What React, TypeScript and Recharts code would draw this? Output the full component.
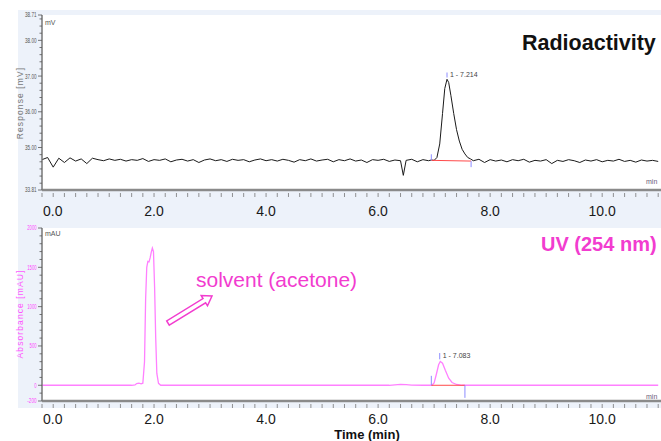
import React from 'react';
import {
  LineChart,
  Line,
  XAxis,
  YAxis,
  CartesianGrid,
  ReferenceLine,
  ReferenceDot,
} from 'recharts';

// radioactivity trace (mV)
const radioTimes = [
  0, 0.1, 0.2, 0.3, 0.4, 0.5, 0.6, 0.7, 0.8, 0.9,
  1.0, 1.1, 1.2, 1.3, 1.4, 1.5, 1.6, 1.7, 1.8, 1.9,
  2.0, 2.1, 2.2, 2.3, 2.4, 2.5, 2.6, 2.7, 2.8, 2.9,
  3.0, 3.1, 3.2, 3.3, 3.4, 3.5, 3.6, 3.7, 3.8, 3.9,
  4.0, 4.1, 4.2, 4.3, 4.4, 4.5, 4.6, 4.7, 4.8, 4.9,
  5.0, 5.1, 5.2, 5.3, 5.4, 5.5, 5.6, 5.7, 5.8, 5.9,
  6.0, 6.1, 6.2, 6.3, 6.4, 6.45, 6.5, 6.6, 6.7, 6.8, 6.9, 6.95,
  7.0, 7.05, 7.1, 7.15, 7.19, 7.23, 7.26, 7.3, 7.35, 7.4, 7.45, 7.5, 7.55, 7.6, 7.65,
  7.7, 7.8, 7.9, 8.0, 8.1, 8.2, 8.3, 8.4, 8.5, 8.6, 8.7, 8.8, 8.9,
  9.0, 9.1, 9.2, 9.3, 9.4, 9.5, 9.6, 9.7, 9.8, 9.9,
  10.0, 10.1, 10.2, 10.3, 10.4, 10.5, 10.6, 10.7, 10.8, 10.9, 11.0,
];
const radioValues = [
  34.66, 34.72, 34.45, 34.7, 34.58, 34.71, 34.62, 34.68, 34.55, 34.7,
  34.66, 34.63, 34.68, 34.64, 34.67, 34.62, 34.66, 34.64, 34.69, 34.61,
  34.66, 34.64, 34.68, 34.6, 34.65, 34.67, 34.62, 34.66, 34.58, 34.65,
  34.68, 34.63, 34.66, 34.61, 34.67, 34.64, 34.66, 34.6, 34.65, 34.68,
  34.63, 34.66, 34.62, 34.67, 34.64, 34.59, 34.66, 34.63, 34.68, 34.62,
  34.65, 34.67, 34.6, 34.66, 34.63, 34.68, 34.62, 34.65, 34.58, 34.66,
  34.64, 34.67, 34.61, 34.65, 34.63, 34.22, 34.64, 34.67, 34.6, 34.66, 34.63, 34.65,
  34.64, 34.72, 35.1, 35.95, 36.65, 36.91, 36.82, 36.45, 35.95, 35.5, 35.18, 34.95, 34.82, 34.72, 34.68,
  34.63, 34.67, 34.58, 34.66, 34.62, 34.65, 34.6, 34.66, 34.63, 34.67, 34.59, 34.64, 34.62,
  34.66, 34.55, 34.64, 34.61, 34.66, 34.63, 34.58, 34.65, 34.62, 34.66,
  34.6, 34.64, 34.62, 34.67, 34.61, 34.64, 34.59, 34.65, 34.62, 34.64, 34.61,
];

// UV 254 nm trace (mAU)
const uvTimes = [
  0, 1.0, 1.6, 1.66, 1.69, 1.73, 1.77, 1.8, 1.83, 1.85, 1.87, 1.89, 1.91,
  1.93, 1.95, 1.97, 1.99, 2.01, 2.03, 2.05, 2.08, 2.12, 3.0, 5.0,
  6.2, 6.3, 6.4, 6.5, 6.6, 6.8, 6.96, 7.0, 7.04, 7.08, 7.11,
  7.15, 7.2, 7.26, 7.32, 7.4, 7.5, 9.0, 11.0,
];
const uvValues = [
  0, 0, 0, 4, 22, 28, 18, 26, 300, 1100, 1500, 1575, 1570,
  1620, 1690, 1745, 1700, 1250, 600, 150, 25, 0, 0, 0,
  0, 6, 12, 9, 3, 0, 0, 30, 140, 260, 303,
  280, 190, 90, 35, 10, 0, 0, 0,
];

// peak integration: [start, apex, end] times and baseline levels
const radioPeakTimes = [6.95, 7.23, 7.66];
const radioPeakLevels = [34.64, 37.0, 34.62];
const radioPeakLabel = '1 - 7.214';
const uvPeakTimes = [6.95, 7.1, 7.55];
const uvPeakLevels = [0, 330, 0];
const uvPeakLabel = '1 - 7.083';

const xLabelTicks = [0, 2, 4, 6, 8, 10];
const xMinorTicks = Array.from({ length: 56 }, (_, i) => Math.round(i * 2) / 10);
const radioMajorTicks = [33.81, 35, 36, 37, 38, 38.71];
const radioMinorTicks = [34, 34.2, 34.4, 34.6, 34.8, 35.2, 35.4, 35.6, 35.8, 36.2, 36.4, 36.6, 36.8, 37.2, 37.4, 37.6, 37.8, 38.2, 38.4, 38.6];
const uvMajorTicks = [-200, 0, 500, 1000, 1500, 2000];
const uvMinorTicks = [-100, 100, 200, 300, 400, 600, 700, 800, 900, 1100, 1200, 1300, 1400, 1600, 1700, 1800, 1900];

const radioData = radioTimes.map((t, i) => ({ t, v: radioValues[i] }));
const uvData = uvTimes.map((t, i) => ({ t, v: uvValues[i] }));

const FONT = '"Liberation Sans", Arial, sans-serif';
const NARROW = '"Liberation Sans Narrow", "Liberation Sans", sans-serif';
const PINK = '#f23ccf';
const X_MAX = 11.05;

const XTick = (props: any) => {
  const { x, y, payload, labelDy } = props;
  const v = payload.value;
  const showLabel = xLabelTicks.some((m) => Math.abs(m - v) < 1e-6);
  return (
    <g>
      <line x1={x} x2={x} y1={y + 3} y2={y + 7} stroke="#777" strokeWidth={0.8} />
      {showLabel && (
        <text
          x={v === 0 ? x + 1 : x}
          y={y + labelDy}
          textAnchor={v === 0 ? 'start' : 'middle'}
          fontSize={14}
          fontFamily={FONT}
          fill="#1a1a1a"
        >
          {v.toFixed(1)}
        </text>
      )}
    </g>
  );
};

const YTick = (props: any) => {
  const { x, y, payload, majors, color, digits } = props;
  const v = payload.value;
  const major = majors.some((m: number) => Math.abs(m - v) < 1e-6);
  const label = v.toFixed(digits);
  return (
    <g>
      <line x1={x - (major ? 4 : 2.5)} x2={x} y1={y} y2={y} stroke="#555" strokeWidth={0.8} />
      {major && (
        <text
          x={x - 5.5}
          y={y}
          dy="0.35em"
          textAnchor="end"
          fontSize={7}
          fontFamily={NARROW}
          fill={color}
          textLength={label.length * 2.3}
          lengthAdjust="spacingAndGlyphs"
        >
          {label}
        </text>
      )}
    </g>
  );
};

function RadioChart() {
  return (
    <LineChart width={661} height={225} data={radioData} margin={{ top: 15, right: 0, bottom: 0, left: 0 }}>
      <CartesianGrid fill="#fff" horizontal={false} vertical={false} />
      <XAxis
        dataKey="t"
        type="number"
        domain={[0, X_MAX]}
        allowDataOverflow
        ticks={xMinorTicks}
        interval={0}
        height={35}
        tickSize={0}
        tickMargin={0}
        tick={<XTick labelDy={26} />}
        axisLine={{ stroke: '#8a8a8a', strokeWidth: 2.5 }}
      />
      <XAxis xAxisId="frame" orientation="top" type="number" domain={[0, X_MAX]} height={0} tick={false} tickLine={false} axisLine={{ stroke: '#aaa' }} />
      <YAxis
        type="number"
        domain={[33.81, 38.71]}
        allowDataOverflow
        ticks={[...radioMajorTicks, ...radioMinorTicks]}
        interval={0}
        width={42}
        tickSize={0}
        tickMargin={0}
        tick={<YTick majors={radioMajorTicks} color="#555" digits={2} />}
        axisLine={{ stroke: '#777', strokeWidth: 1.5 }}
      />
      <Line dataKey="v" type="linear" stroke="#1a1a1a" strokeWidth={1} dot={false} isAnimationActive={false} />
      <ReferenceLine
        segment={[{ x: radioPeakTimes[0], y: radioPeakLevels[0] }, { x: radioPeakTimes[2], y: radioPeakLevels[2] }]}
        stroke="#ff4a4a"
        strokeWidth={1}
      />
      <ReferenceLine segment={[{ x: radioPeakTimes[0], y: radioPeakLevels[0] }, { x: radioPeakTimes[0], y: radioPeakLevels[0] + 0.17 }]} stroke="#8c8cff" />
      <ReferenceLine segment={[{ x: radioPeakTimes[2], y: radioPeakLevels[2] }, { x: radioPeakTimes[2], y: radioPeakLevels[2] - 0.17 }]} stroke="#8c8cff" />
      <ReferenceLine segment={[{ x: radioPeakTimes[1], y: radioPeakLevels[1] - 0.04 }, { x: radioPeakTimes[1], y: radioPeakLevels[1] + 0.1 }]} stroke="#8c8cff" />
      <ReferenceDot
        x={radioPeakTimes[1]}
        y={radioPeakLevels[1] + 0.05}
        r={1}
        fill="none"
        stroke="none"
        label={{ value: radioPeakLabel, position: 'right', offset: 2, fontSize: 7, fill: '#444', fontFamily: NARROW }}
      />
    </LineChart>
  );
}

function UvChart() {
  return (
    <LineChart width={661} height={228} data={uvData} margin={{ top: 15, right: 0, bottom: 0, left: 0 }}>
      <CartesianGrid fill="#fff" horizontal={false} vertical={false} />
      <XAxis
        dataKey="t"
        type="number"
        domain={[0, X_MAX]}
        allowDataOverflow
        ticks={xMinorTicks}
        interval={0}
        height={40}
        tickSize={0}
        tickMargin={0}
        tick={<XTick labelDy={23} />}
        axisLine={{ stroke: '#8a8a8a', strokeWidth: 2.5 }}
      />
      <XAxis xAxisId="frame" orientation="top" type="number" domain={[0, X_MAX]} height={0} tick={false} tickLine={false} axisLine={{ stroke: '#aaa' }} />
      <YAxis
        type="number"
        domain={[-200, 2000]}
        allowDataOverflow
        ticks={[...uvMajorTicks, ...uvMinorTicks]}
        interval={0}
        width={42}
        tickSize={0}
        tickMargin={0}
        tick={<YTick majors={uvMajorTicks} color="#ff44ff" digits={0} />}
        axisLine={{ stroke: '#777', strokeWidth: 1.5 }}
      />
      <Line dataKey="v" type="linear" stroke="#ff80ff" strokeWidth={1.3} dot={false} isAnimationActive={false} />
      <ReferenceLine
        segment={[{ x: uvPeakTimes[0], y: uvPeakLevels[0] }, { x: uvPeakTimes[2], y: uvPeakLevels[2] }]}
        stroke="#ff4a4a"
        strokeWidth={1}
      />
      <ReferenceLine segment={[{ x: uvPeakTimes[0], y: uvPeakLevels[0] }, { x: uvPeakTimes[0], y: uvPeakLevels[0] + 120 }]} stroke="#8c8cff" />
      <ReferenceLine segment={[{ x: uvPeakTimes[2], y: uvPeakLevels[2] }, { x: uvPeakTimes[2], y: uvPeakLevels[2] - 160 }]} stroke="#8c8cff" />
      <ReferenceLine segment={[{ x: uvPeakTimes[1], y: uvPeakLevels[1] }, { x: uvPeakTimes[1], y: uvPeakLevels[1] + 80 }]} stroke="#8c8cff" />
      <ReferenceDot
        x={uvPeakTimes[1]}
        y={uvPeakLevels[1] + 50}
        r={1}
        fill="none"
        stroke="none"
        label={{ value: uvPeakLabel, position: 'right', offset: 2, fontSize: 7, fill: '#444', fontFamily: NARROW }}
      />
    </LineChart>
  );
}

export default function App() {
  return (
    <div style={{ position: 'absolute', left: 0, top: 0, width: 661, height: 441, background: '#fff', overflow: 'hidden' }}>
      <div style={{ position: 'absolute', left: 18, top: 10, width: 643, height: 398, background: '#edf2fa' }} />
      <div style={{ position: 'absolute', left: 0, top: 0 }}>
        <RadioChart />
      </div>
      <div style={{ position: 'absolute', left: 0, top: 213 }}>
        <UvChart />
      </div>
      <svg width={661} height={441} style={{ position: 'absolute', left: 0, top: 0, pointerEvents: 'none' }} fontFamily={FONT}>
        <text x={522} y={50} fontSize={21.5} fontWeight="bold" fill="#111">Radioactivity</text>
        <text x={541} y={251} fontSize={20} fontWeight="bold" fill={PINK}>UV (254 nm)</text>
        <text x={196} y={287} fontSize={21} fill={PINK}>solvent (acetone)</text>
        <polygon
          points="169.3,325.1 205.6,302.8 207.5,305.8 212,296 201.2,295.6 203,298.6 166.7,320.9"
          fill="#fff"
          stroke={PINK}
          strokeWidth={1.5}
          strokeLinejoin="miter"
        />
        <text x={45} y={25} fontSize={7} fill="#555" fontFamily={NARROW}>mV</text>
        <text x={45} y={236} fontSize={7} fill="#555" fontFamily={NARROW}>mAU</text>
        <text x={646} y={184} fontSize={7} fill="#6a5a7a" fontFamily={NARROW}>min</text>
        <text x={646} y={399} fontSize={7} fill="#6a5a7a" fontFamily={NARROW}>min</text>
        <text x={20} y={103} transform="rotate(-90 20 103)" textAnchor="middle" dy="0.35em" fontSize={8.5} letterSpacing={1.1} fill="#777">
          Response [mV]
        </text>
        <text x={20} y={314} transform="rotate(-90 20 314)" textAnchor="middle" dy="0.35em" fontSize={8.5} letterSpacing={1.1} fill="#ff55ff">
          Absorbance [mAU]
        </text>
        <text x={367} y={439} textAnchor="middle" fontSize={13} fontWeight="bold" fill="#111">Time (min)</text>
      </svg>
    </div>
  );
}
